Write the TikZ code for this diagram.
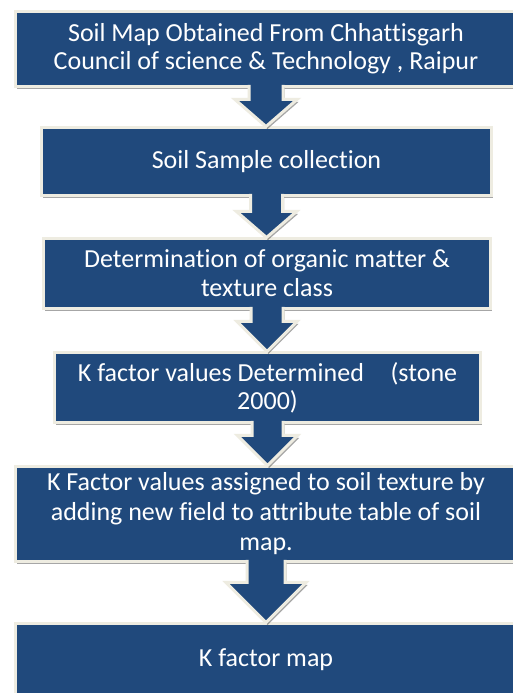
\documentclass[tikz,border=0pt]{standalone}
\usepackage{fontspec}
\setmainfont{Carlito}[Ligatures=NoCommon]
\usetikzlibrary{calc,shadows}
\definecolor{boxblue}{RGB}{32,73,124}
\definecolor{rimcol}{RGB}{238,236,225}
% block arrow from the bottom of one box to the top of the next:
% #1 from, #2 to, #3 shaft half width, #4 head half width, #5 head height
\newcommand{\blockarrow}[5]{%
  \draw[flowarrow] let \p1=(#1.south), \p2=(#2.north) in
    (\x1-#3pt,\y1+1.5pt) -- (\x1-#3pt,\y2+#5pt) -- (\x1-#4pt,\y2+#5pt)
    -- (\x1,\y2+1pt) -- (\x1+#4pt,\y2+#5pt) -- (\x1+#3pt,\y2+#5pt)
    -- (\x1+#3pt,\y1+1.5pt);
}
\tikzset{
  shade/.style={drop shadow={shadow xshift=1.5pt,shadow yshift=-2.5pt,opacity=0.35,fill=black}},
  stepbox/.style={shade,draw=rimcol,line width=3pt,fill=boxblue,text=white,
    rectangle,outer sep=0pt,inner sep=0pt,align=center,
    font=\fontsize{26}{29}\selectfont},
  flowarrow/.style={shade,draw=rimcol,line width=3pt,fill=boxblue,line join=miter},
}
\begin{document}
\begin{tikzpicture}[x=1pt,y=1pt]
\useasboundingbox (0,0) rectangle (513,693);
\fill[white] (0,0) rectangle (513,693);

\node[stepbox,minimum width=501pt,minimum height=75pt] (b1) at (266,644)
  {Soil Map Obtained From Chhattisgarh\\[-1pt]Council of science \& Technology , Raipur};
\node[stepbox,minimum width=450pt,minimum height=68pt] (b2) at (266.5,531.5)
  {Soil Sample collection};
\node[stepbox,minimum width=447pt,minimum height=70pt] (b3) at (267,419.5)
  {Determination of organic matter \&\\texture class};
\node[stepbox,minimum width=426pt,minimum height=70pt] (b4) at (267.5,305.5)
  {K factor values Determined\hspace{0.8em} (stone\\[-1pt]2000)};
\node[stepbox,minimum width=501pt,minimum height=95pt] (b5) at (266,179)
  {K Factor values assigned to soil texture by\\[1pt]adding new field to attribute table of soil\\[1pt]map.};
\node[stepbox,minimum width=501pt,minimum height=72pt] (b6) at (266,33.5)
  {K factor map};

\blockarrow{b1}{b2}{17}{31}{28}
\blockarrow{b2}{b3}{16}{30}{27}
\blockarrow{b3}{b4}{16}{30}{31}
\blockarrow{b4}{b5}{15.5}{30}{31}
\blockarrow{b5}{b6}{19}{40}{41}
\end{tikzpicture}
\end{document}
